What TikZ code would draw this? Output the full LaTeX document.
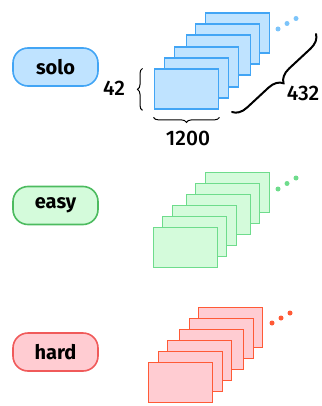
\documentclass[tikz,border=0pt]{standalone}
\usepackage{fontspec}
\setmainfont{Fira Sans}
\newfontfamily\dimfont{Fira Sans Medium}
\usetikzlibrary{decorations.pathreplacing}

\definecolor{soloFill}{HTML}{BFE3FF}
\definecolor{soloLine}{HTML}{42A5F5}
\definecolor{soloDot}{HTML}{7CC4FA}
\definecolor{easyFill}{HTML}{D4FBDB}
\definecolor{easyLine}{HTML}{6EDC8C}
\definecolor{easyPill}{HTML}{4CBB5F}
\definecolor{easyDot}{HTML}{6EDC8C}
\definecolor{hardFill}{HTML}{FFCCD2}
\definecolor{hardLine}{HTML}{FF5A36}
\definecolor{hardPill}{HTML}{F05A5A}
\definecolor{hardDot}{HTML}{FF5A36}

\tikzset{
  pill/.style={draw=#1Line, fill=#1Fill, line width=1.6pt, rounded corners=15pt,
    minimum width=85pt, minimum height=38pt, inner sep=0pt,
    font=\fontsize{20}{20}\selectfont\bfseries},
  frame/.style={draw=#1Line, fill=#1Fill, line width=1.9pt, anchor=north west,
    inner sep=0pt, minimum width=64pt, minimum height=40pt},
  dimlabel/.style={font=\dimfont\fontsize{21}{21}\selectfont, inner sep=0pt},
  dimbrace/.style={draw, line width=1pt, decorate,
    decoration={brace, amplitude=5pt}},
  bigbrace/.style={draw, line width=2pt, line cap=round, decorate,
    decoration={brace, amplitude=14pt}},
  dot/.style={circle, fill=#1, inner sep=0pt, minimum size=5pt},
}

\begin{document}
\begin{tikzpicture}[x=1pt, y=-1pt]
\useasboundingbox (0,0) rectangle (321,406);

% solo
\node[pill=solo] (solo) at (55.5,67) {solo};
\node[frame=solo] (s6) at (204.5,12.5) {};
\node[frame=solo] (s5) at (194.5,23.5) {};
\node[frame=solo] (s4) at (185.5,34.5) {};
\node[frame=solo] (s3) at (173.5,46.5) {};
\node[frame=solo] (s2) at (163.5,57.5) {};
\node[frame=solo] (s1) at (153.5,68.5) {};
\node[dot=soloDot] (sd1) at (278,29) {};
\node[dot=soloDot] (sd2) at (287,23.5) {};
\node[dot=soloDot] (sd3) at (296,18.5) {};

% dimensions of the front frame and the stack
\coordinate (hb1) at ([xshift=-11pt]s1.south west);
\coordinate (hb2) at ([xshift=-11pt]s1.north west);
\draw[dimbrace] (hb1) -- (hb2);
\node[dimlabel] (h) at (114,88) {42};
\coordinate (wb1) at ([yshift=-7pt]s1.south east);
\coordinate (wb2) at ([yshift=-7pt]s1.south west);
\draw[dimbrace] (wb1) -- (wb2);
\node[dimlabel] (w) at (188,138) {1200};
\coordinate (nb1) at (316,34);
\coordinate (nb2) at (232,112);
\draw[bigbrace] (nb1) -- (nb2);
\node[dimlabel, anchor=east] (n) at (319.5,93) {432};

% easy
\node[pill=easy, draw=easyPill] (easy) at (55.5,205.5) {easy};
\node[frame=easy] (e6) at (204.5,171.5) {};
\node[frame=easy] (e5) at (194.5,182.5) {};
\node[frame=easy] (e4) at (185.5,193.5) {};
\node[frame=easy] (e3) at (171.5,204.5) {};
\node[frame=easy] (e2) at (161.5,215.5) {};
\node[frame=easy] (e1) at (152.5,226.5) {};
\node[dot=easyDot] (ed1) at (278,189) {};
\node[dot=easyDot] (ed2) at (287,183.5) {};
\node[dot=easyDot] (ed3) at (296,178) {};

% hard
\node[pill=hard, draw=hardPill] (hard) at (55.5,352) {hard};
\node[frame=hard] (h6) at (197.5,306.5) {};
\node[frame=hard] (h5) at (188.5,317.5) {};
\node[frame=hard] (h4) at (178.5,328.5) {};
\node[frame=hard] (h3) at (166.5,339.5) {};
\node[frame=hard] (h2) at (157.5,350.5) {};
\node[frame=hard] (h1) at (147.5,361.5) {};
\node[dot=hardDot] (hd1) at (272,323) {};
\node[dot=hardDot] (hd2) at (281,318) {};
\node[dot=hardDot] (hd3) at (290,313) {};
\end{tikzpicture}
\end{document}
